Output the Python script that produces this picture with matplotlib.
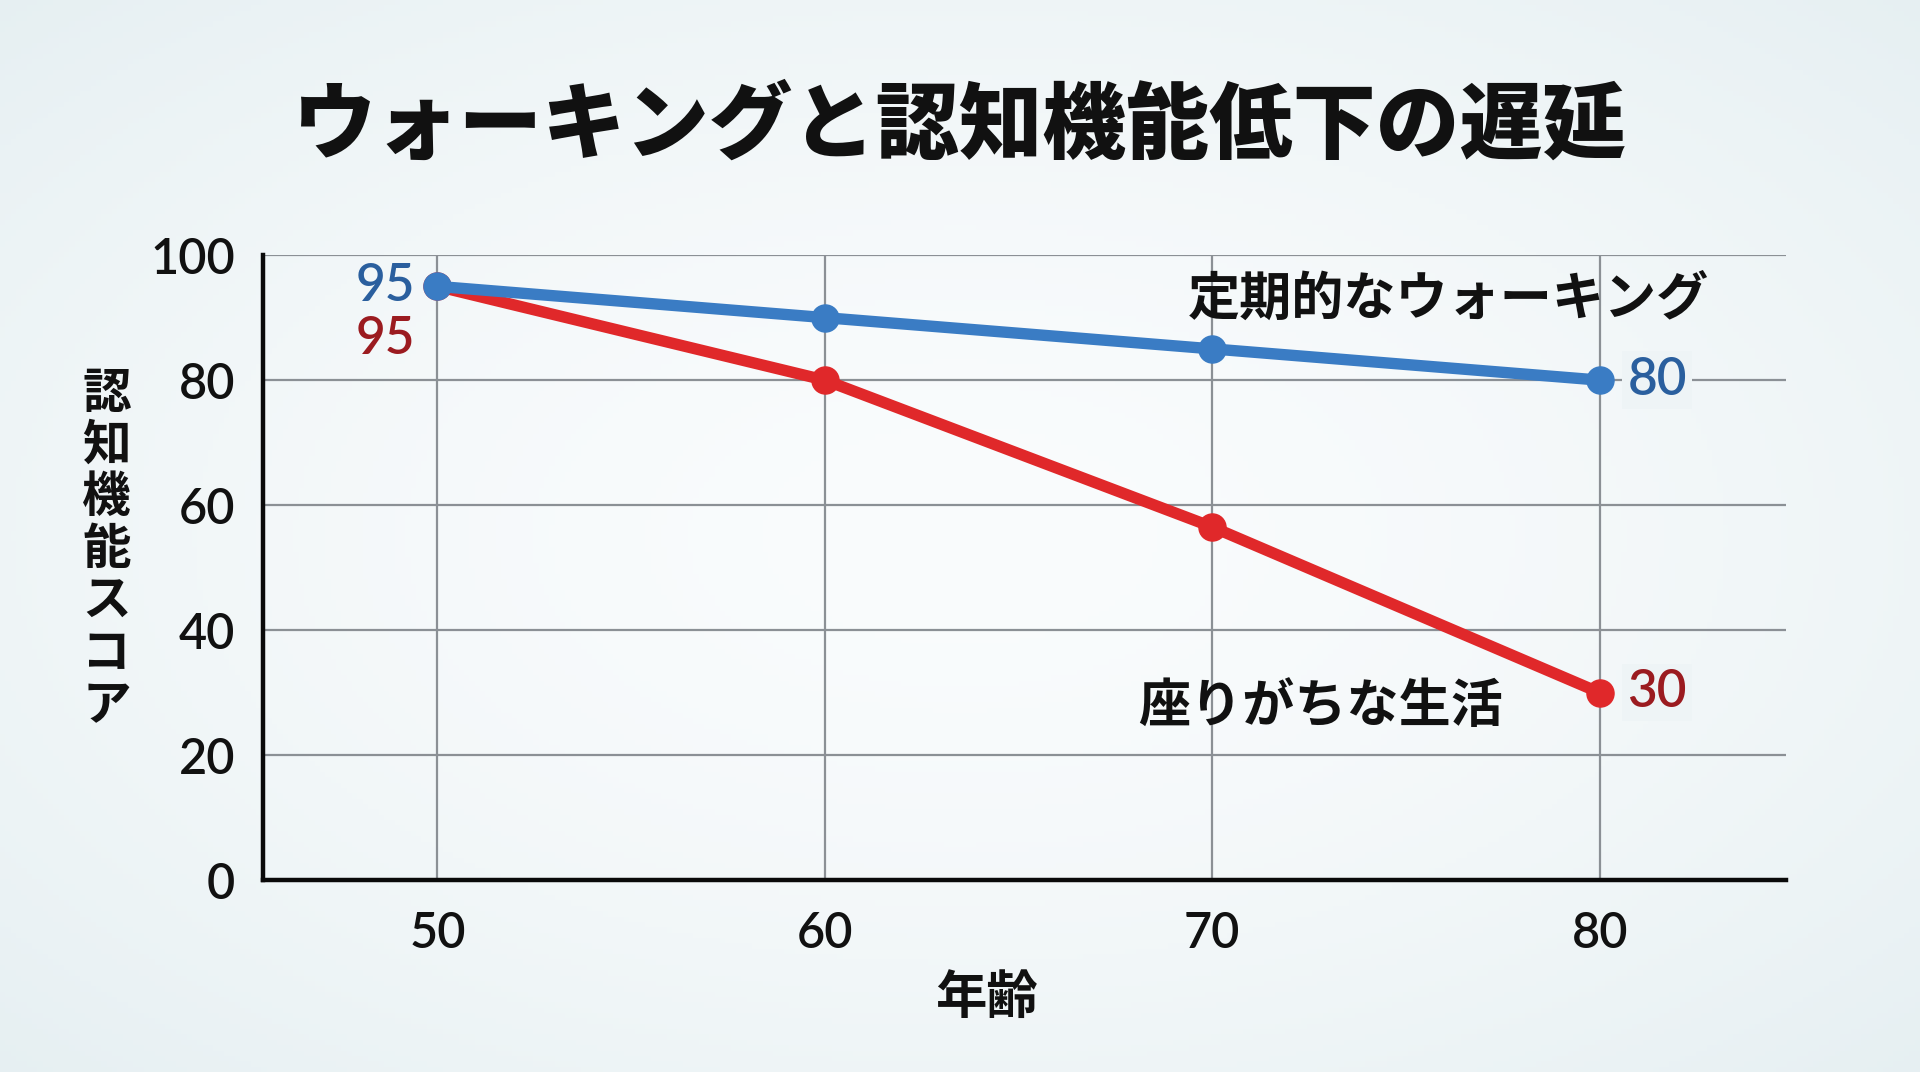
import numpy as np
import matplotlib
matplotlib.use("Agg")
import matplotlib.pyplot as plt

plt.rcParams['font.family'] = ['Noto Sans CJK JP', 'DejaVu Sans']
NUM_FONT = ['Lato', 'Noto Sans CJK JP', 'DejaVu Sans']

# ---- data ----
ages = [50, 60, 70, 80]
walking = [95, 90, 85, 80]
sedentary = [95, 80, 56.5, 30]
walking_name = "定期的なウォーキング"
sedentary_name = "座りがちな生活"
title = "ウォーキングと認知機能低下の遅延"
xlabel = "年齢"
ylabel = "認知機能スコア"
yticks = [0, 20, 40, 60, 80, 100]

# ---- styles ----
blue_line = "#3a7cc4"
blue_text = "#2a5f9e"
red_line = "#e0282a"
red_text = "#9b1b20"
bg_center = np.array([0.98, 0.988, 0.992])
bg_edge = np.array([0.895, 0.935, 0.945])

fig = plt.figure(figsize=(19.2, 10.72), dpi=100)

# background radial gradient
bg = fig.add_axes([0, 0, 1, 1], zorder=-10)
yy, xx = np.mgrid[0:1:200j, 0:1:360j]
r = np.sqrt(((xx - 0.5) / 0.75) ** 2 + ((yy - 0.5) / 0.75) ** 2)
r = np.clip(r, 0, 1) ** 1.6
img = bg_center[None, None, :] * (1 - r[..., None]) + bg_edge[None, None, :] * r[..., None]
bg.imshow(img, aspect='auto', extent=[0, 1, 0, 1], origin='lower')
bg.axis('off')

ax = fig.add_axes([0.137, 0.179, 0.793, 0.583])
ax.set_facecolor('none')

ax.plot(ages, sedentary, color=red_line, lw=8.2, marker='o', ms=19.5,
        solid_capstyle='round', zorder=3)
ax.plot(ages, walking, color=blue_line, lw=8.2, marker='o', ms=19.5,
        solid_capstyle='round', zorder=4)

ax.set_xlim(45.5, 84.8)
ax.set_ylim(0, 100)
ax.set_xticks(ages)
ax.set_yticks(yticks)
ax.tick_params(axis='both', length=0, labelsize=35, colors='#111111')
ax.tick_params(axis='x', pad=22)
ax.tick_params(axis='y', pad=20)
for lab in ax.get_xticklabels() + ax.get_yticklabels():
    lab.set_fontweight('semibold')
    lab.set_family(NUM_FONT)

ax.grid(True, color='#8b9095', lw=1.6, zorder=0)
ax.set_axisbelow(True)
for s in ['top', 'right']:
    ax.spines[s].set_visible(False)
for s in ['left', 'bottom']:
    ax.spines[s].set_linewidth(3.2)
    ax.spines[s].set_color('#0a0a0a')
    ax.spines[s].set_zorder(5)

bbox_bg = dict(boxstyle='square,pad=0.1', fc='#eef4f6', ec='none')

# value labels
num_kw = dict(textcoords='offset points', va='center', fontsize=37,
              fontweight='semibold', family=NUM_FONT, zorder=6)
ax.annotate(f"{walking[0]}", (ages[0], walking[0]), xytext=(-16, 0),
            ha='right', color=blue_text, **num_kw)
ax.annotate(f"{sedentary[0]}", (ages[0], sedentary[0]), xytext=(-16, -38),
            ha='right', color=red_text, **num_kw)
ax.annotate(f"{walking[-1]}", (ages[-1], walking[-1]), xytext=(20, 0),
            ha='left', color=blue_text, bbox=bbox_bg, **num_kw)
ax.annotate(f"{sedentary[-1]:.0f}", (ages[-1], sedentary[-1]), xytext=(20, 0),
            ha='left', color=red_text, bbox=bbox_bg, **num_kw)

# series names
ax.text(76.1, 93.0, walking_name, ha='center', va='center', fontsize=37.5,
        fontweight='bold', color='#111111', zorder=6)
ax.text(72.8, 27.8, sedentary_name, ha='center', va='center', fontsize=37.5,
        fontweight='bold', color='#111111', zorder=6)

# title and axis labels
fig.text(0.5, 0.882, title, ha='center', va='center', fontsize=60,
         fontweight='black', color='#111111')
fig.text(0.514, 0.070, xlabel, ha='center', va='center', fontsize=37,
         fontweight='bold', color='#111111')
fig.text(0.0555, 0.4875, "\n".join(ylabel), ha='center', va='center',
         fontsize=35, fontweight='bold', color='#111111', linespacing=1.08)

fig.savefig("out.png", dpi=100)
